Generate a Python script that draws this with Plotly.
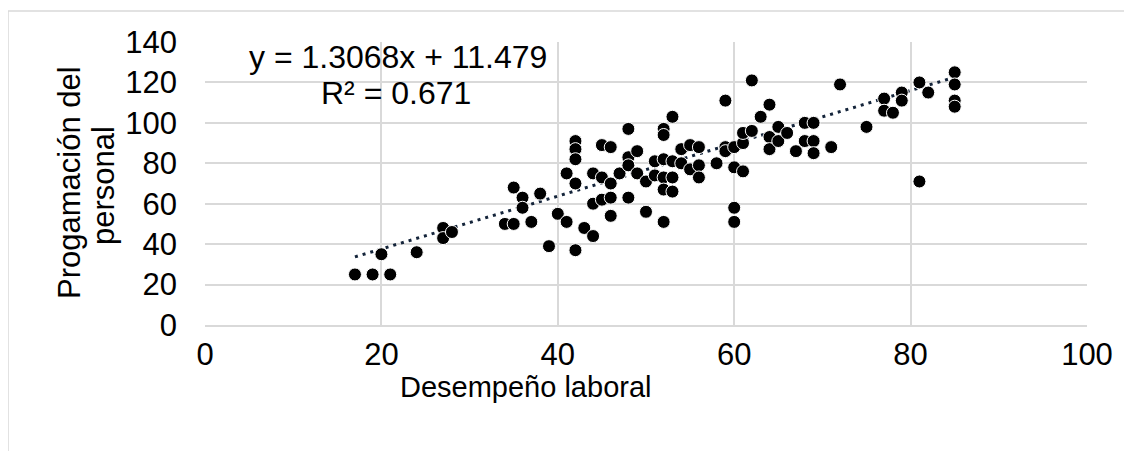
import plotly.graph_objects as go

# Data
desempeno = [17, 19, 21, 20, 24, 27, 27, 28,
             34, 35, 35, 36, 36, 37, 38, 39, 40, 41, 41,
             42, 42, 42, 42, 42, 43, 44, 44, 44, 45, 45, 45, 46, 46, 46, 46,
             47, 48, 48, 48, 48, 49, 49, 50, 50, 51, 51, 52, 52, 52, 52, 52, 52,
             53, 53, 53, 53, 54, 54, 55, 55, 56, 56, 56, 58,
             59, 59, 59, 60, 60, 60, 60, 61, 61, 61, 62, 62, 63, 64, 64, 64,
             65, 65, 66, 67, 68, 68, 69, 69, 69, 71, 72,
             75, 77, 77, 78, 79, 79, 81, 81, 82, 85, 85, 85, 85]
programacion = [25, 25, 25, 35, 36, 48, 43, 46,
                50, 50, 68, 63, 58, 51, 65, 39, 55, 51, 75,
                91, 87, 82, 70, 37, 48, 44, 60, 75, 89, 73, 62, 54, 63, 88, 70,
                75, 97, 83, 79, 63, 86, 75, 56, 71, 81, 74, 97, 94, 82, 73, 67, 51,
                103, 73, 66, 81, 87, 80, 89, 77, 88, 79, 73, 80,
                111, 88, 86, 88, 78, 58, 51, 90, 95, 76, 96, 121, 103, 109, 93, 87,
                98, 91, 95, 86, 100, 91, 100, 91, 85, 88, 119,
                98, 112, 106, 105, 115, 111, 120, 71, 115, 125, 119, 111, 108]

slope = 1.3068
intercept = 11.479
eq_text = "y = 1.3068x + 11.479"
r2_text = "R² = 0.671"
x_title = "Desempeño laboral"
y_title_lines = ["Progamación del", "personal"]

x_min, x_max = min(desempeno), max(desempeno)
trend_x = [x_min, x_max]
trend_y = [slope * v + intercept for v in trend_x]

FONT = "Liberation Sans, Arial, sans-serif"
fs_tick = 31
fs_title = 29
fs_ytitle = 31
fs_eq = 32

fig = go.Figure()
fig.add_trace(go.Scatter(
    x=trend_x, y=trend_y, mode="lines",
    line=dict(color="#14243a", width=3, dash="3px,5px"),
    hoverinfo="skip", showlegend=False))
fig.add_trace(go.Scatter(
    x=desempeno, y=programacion, mode="markers",
    marker=dict(color="black", size=13, line=dict(color="white", width=1)),
    showlegend=False))

# page body adds an 8px offset; compensate so that target pixel coords match
OFF = 8
W, H = 1132 - OFF, 451 - OFF
plot_left, plot_right, plot_top, plot_bottom = 205, 1087, 42, 325
L = plot_left - OFF
T = plot_top - OFF
R = W - (plot_right - OFF)
B = H - (plot_bottom - OFF)
pw, ph = W - L - R, H - T - B

def px(xp):
    return (xp - OFF - L) / pw

def py(yp):
    return (H - B - (yp - OFF)) / ph

fig.update_layout(
    width=W, height=H,
    margin=dict(l=L, r=R, t=T, b=B),
    paper_bgcolor="white", plot_bgcolor="white",
    font=dict(family=FONT, size=fs_tick, color="black"),
    xaxis=dict(range=[0, 100], tickvals=[0, 20, 40, 60, 80, 100],
               showgrid=True, gridcolor="#d9d9d9", gridwidth=1.5,
               zeroline=False, showline=True, linecolor="#d9d9d9", linewidth=1.5,
               ticks="", ticklabelstandoff=1,
               tickfont=dict(family=FONT, size=fs_tick, color="black")),
    yaxis=dict(range=[0, 140], tickvals=list(range(0, 141, 20)),
               showgrid=True, gridcolor="#d9d9d9", gridwidth=1.5,
               zeroline=False, showline=False,
               ticks="", ticklabelstandoff=27,
               tickfont=dict(family=FONT, size=fs_tick, color="black")),
    shapes=[dict(type="rect", xref="paper", yref="paper",
                 x0=px(8), x1=px(1145), y0=py(11), y1=py(470),
                 line=dict(color="#d9d9d9", width=1.5), fillcolor="rgba(0,0,0,0)",
                 layer="below")],
    annotations=[
        dict(text=x_title, xref="paper", yref="paper", x=px(525), y=py(387),
             showarrow=False, xanchor="center", yanchor="middle",
             font=dict(family=FONT, size=fs_title, color="black")),
        dict(text=y_title_lines[0], xref="paper", yref="paper", x=px(69), y=py(183),
             showarrow=False, xanchor="center", yanchor="middle", textangle=-90,
             font=dict(family=FONT, size=fs_ytitle, color="black")),
        dict(text=y_title_lines[1], xref="paper", yref="paper", x=px(103), y=py(186),
             showarrow=False, xanchor="center", yanchor="middle", textangle=-90,
             font=dict(family=FONT, size=fs_ytitle, color="black")),
        dict(text=eq_text, x=21.9, y=(325 - 57) / 2.02, showarrow=False,
             xanchor="center", yanchor="middle",
             font=dict(family=FONT, size=fs_eq, color="black")),
        dict(text=r2_text, x=21.6, y=(325 - 93) / 2.02, showarrow=False,
             xanchor="center", yanchor="middle",
             font=dict(family=FONT, size=fs_eq, color="black")),
    ],
)

fig.write_html("out.html")
